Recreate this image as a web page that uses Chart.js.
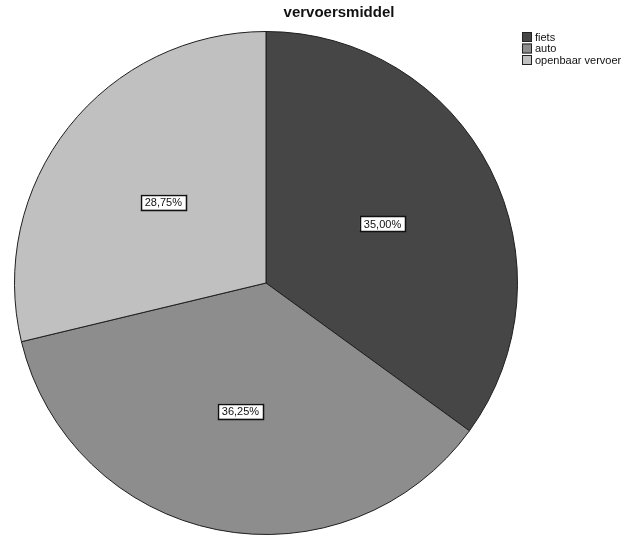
<!DOCTYPE html>
<html>
<head>
<meta charset="utf-8">
<script src="https://cdn.jsdelivr.net/npm/chart.js@4/dist/chart.umd.min.js"></script>
<style>
  html, body { margin: 0; padding: 0; background: #fff; }
  #chartWrap { width: 633px; height: 537px; }
</style>
</head>
<body>
<div id="chartWrap"><canvas id="myChart" width="633" height="537"></canvas></div>
<script>
const chartTitle = "vervoersmiddel";
const categories = ["fiets", "auto", "openbaar vervoer"];
const percentages = [35.00, 36.25, 28.75];
const sliceColors = ["#464646", "#8d8d8d", "#c0c0c0"];

// draws the title, the legend in the top-right corner and the boxed percentage labels
const spssDecor = {
  id: "spssDecor",
  afterDatasetsDraw(chart) {
    const ctx = chart.ctx;
    const meta = chart.getDatasetMeta(0);
    const ds = chart.data.datasets[0];

    ctx.save();
    // title
    ctx.font = "bold 15px 'Liberation Sans', Arial, sans-serif";
    ctx.fillStyle = "#111";
    ctx.textAlign = "center";
    ctx.textBaseline = "middle";
    ctx.fillText(chartTitle, 339, 13);

    // legend
    ctx.font = "11px 'Liberation Sans', Arial, sans-serif";
    ctx.textAlign = "left";
    chart.data.labels.forEach((lab, i) => {
      const y = 32 + i * 11.5;
      ctx.fillStyle = ds.backgroundColor[i];
      ctx.fillRect(522, y, 10, 10);
      ctx.strokeStyle = "#222";
      ctx.lineWidth = 1;
      ctx.strokeRect(522.5, y + 0.5, 9, 9);
      ctx.fillStyle = "#111";
      ctx.fillText(lab, 535, y + 5.5);
    });

    // percentage labels
    ctx.font = "11px 'Liberation Sans', Arial, sans-serif";
    ctx.textAlign = "center";
    meta.data.forEach((arc, i) => {
      const p = arc.getProps(["x", "y", "startAngle", "endAngle", "outerRadius"], true);
      const mid = (p.startAngle + p.endAngle) / 2;
      const r = p.outerRadius * 0.52;
      const x = p.x + Math.cos(mid) * r;
      const y = p.y + Math.sin(mid) * r;
      const txt = ds.data[i].toFixed(2).replace(".", ",") + "%";
      const w = ctx.measureText(txt).width + 8;
      const h = 15;
      ctx.fillStyle = "#fff";
      ctx.fillRect(x - w / 2, y - h / 2, w, h);
      ctx.strokeStyle = "#111";
      ctx.lineWidth = 1.5;
      ctx.strokeRect(Math.round(x - w / 2) + 0.5, Math.round(y - h / 2) + 0.5, Math.round(w), h);
      ctx.fillStyle = "#111";
      ctx.fillText(txt, x, y + 1);
    });
    ctx.restore();
  }
};

new Chart(document.getElementById("myChart"), {
  type: "pie",
  data: {
    labels: categories,
    datasets: [{
      data: percentages,
      backgroundColor: sliceColors,
      borderColor: "#1e1e1e",
      borderWidth: 1
    }]
  },
  options: {
    responsive: false,
    animation: false,
    layout: { padding: { left: 14, top: 31, right: 115, bottom: 2 } },
    plugins: {
      legend: { display: false },
      title: { display: false },
      tooltip: { enabled: false }
    }
  },
  plugins: [spssDecor]
});
</script>
</body>
</html>
